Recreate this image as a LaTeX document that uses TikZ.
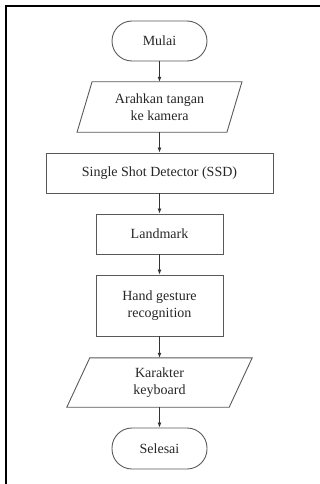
\documentclass[tikz,border=0pt]{standalone}
\usepackage{fontspec}
\setmainfont{Liberation Serif}
\usetikzlibrary{arrows.meta}
\begin{document}
\begin{tikzpicture}[x=1pt,y=1pt,
  every node/.style={font=\fontsize{14}{16.5}\selectfont, text=black!85, align=center, inner sep=0pt},
  shapeline/.style={draw=black!65, line width=0.9pt},
  term/.style={shapeline, rounded corners=20pt, minimum width=95pt, minimum height=40pt},
  procbox/.style={shapeline, minimum height=40pt},
  iobox/.style={minimum height=50pt},
  flow/.style={draw=black!80, line width=0.8pt, -{Latex[length=5pt,width=4pt]}}
]
\useasboundingbox (0,0) rectangle (320,-484);
% frame (top and left only)
\draw[line width=2.3pt, black] (320,-6) -- (6,-6) -- (6,-484);

\node[term] (mulai) at (159.5,-41) {Mulai};
\node[iobox, minimum width=149.5pt] (arah) at (159.5,-107) {Arahkan tangan\\ke kamera};
\node[procbox, minimum width=227pt] (ssd) at (159.5,-173) {Single Shot Detector (SSD)};
\node[procbox, minimum width=127pt] (land) at (159.5,-234) {Landmark};
\node[procbox, minimum width=127pt, minimum height=61pt] (hand) at (159.5,-305.5) {Hand gesture\\recognition};
\node[iobox, minimum width=162pt, minimum height=49pt] (kar) at (159.5,-382.5) {Karakter\\keyboard};
\node[term, minimum height=41pt] (sel) at (159.5,-448.5) {Selesai};

\draw[shapeline] ([xshift=7.5pt]arah.north west) -- ([xshift=7.5pt]arah.north east)
  -- ([xshift=-7.5pt]arah.south east) -- ([xshift=-7.5pt]arah.south west) -- cycle;
\draw[shapeline] ([xshift=11.5pt]kar.north west) -- ([xshift=11.5pt]kar.north east)
  -- ([xshift=-11.5pt]kar.south east) -- ([xshift=-11.5pt]kar.south west) -- cycle;

\draw[flow] (mulai) -- (arah);
\draw[flow] (arah) -- (ssd);
\draw[flow] (ssd) -- (land);
\draw[flow] (land) -- (hand);
\draw[flow] (hand) -- (kar);
\draw[flow] (kar) -- (sel);
\end{tikzpicture}
\end{document}
